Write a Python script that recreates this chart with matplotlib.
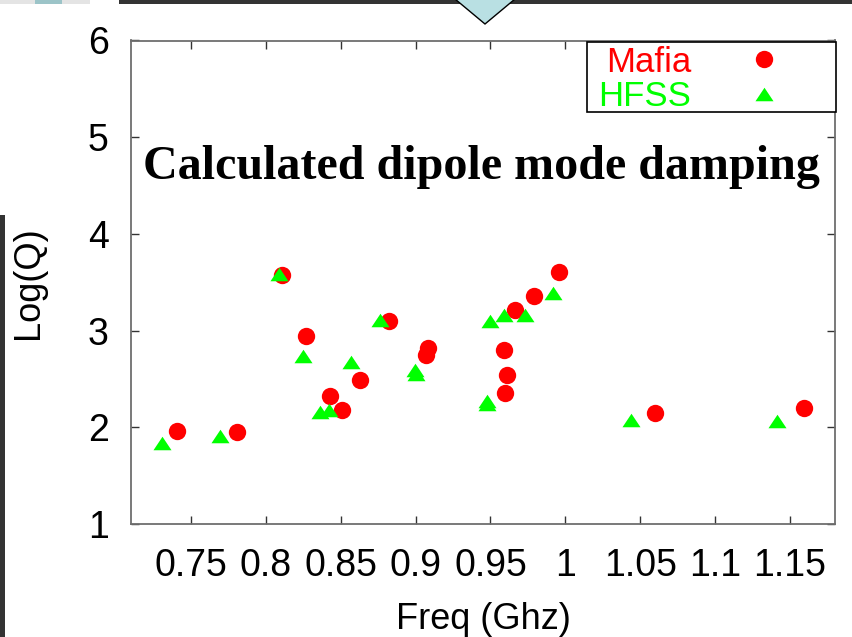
import matplotlib
matplotlib.use("Agg")
import matplotlib.pyplot as plt
from matplotlib.patches import Rectangle, Polygon

# ---- data ----
mafia_freq = [0.741, 0.781, 0.811, 0.827, 0.843, 0.851, 0.863, 0.882, 0.908, 0.907,
              0.959, 0.961, 0.960, 0.9665, 0.979, 0.9955, 1.060, 1.1596]
mafia_logq = [1.96, 1.95, 3.58, 2.94, 2.32, 2.18, 2.49, 3.10, 2.82, 2.75,
              2.80, 2.54, 2.35, 3.21, 3.36, 3.61, 2.15, 2.20]
hfss_freq = [0.731, 0.7695, 0.809, 0.8245, 0.836, 0.842, 0.8566, 0.876, 0.8996, 0.900,
             0.948, 0.948, 0.950, 0.959, 0.973, 0.992, 1.044, 1.141]
hfss_logq = [1.84, 1.91, 3.59, 2.74, 2.16, 2.18, 2.68, 3.11, 2.59, 2.55,
             2.27, 2.24, 3.10, 3.16, 3.16, 3.39, 2.08, 2.07]
x_ticks = [0.75, 0.8, 0.85, 0.9, 0.95, 1.0, 1.05, 1.1, 1.15]
x_tick_labels = ["0.75", "0.8", "0.85", "0.9", "0.95", "1", "1.05", "1.1", "1.15"]
y_ticks = [1, 2, 3, 4, 5, 6]
y_tick_labels = ["1", "2", "3", "4", "5", "6"]
series_names = ["Mafia", "HFSS"]
title_text = "Calculated dipole mode damping"
x_label = "Freq (Ghz)"
y_label = "Log(Q)"

plt.rcParams['font.family'] = ['Liberation Sans', 'DejaVu Sans']

W, H = 852, 637
fig = plt.figure(figsize=(W / 100, H / 100), dpi=100)
fig.patch.set_facecolor('white')

def fx(px):
    return px / W

def fy(py):
    return 1 - py / H

# slide decorations around the chart
fig.patches.append(Rectangle((fx(119), fy(4)), fx(852) - fx(119), fy(0) - fy(4),
                             transform=fig.transFigure, facecolor='#333333',
                             edgecolor='none', zorder=0))
fig.patches.append(Rectangle((fx(0), fy(4)), fx(90), fy(0) - fy(4),
                             transform=fig.transFigure, facecolor='#e4e4e4',
                             edgecolor='none', zorder=0))
fig.patches.append(Rectangle((fx(35), fy(4)), fx(27), fy(0) - fy(4),
                             transform=fig.transFigure, facecolor='#9cc4c8',
                             edgecolor='none', zorder=0))
fig.patches.append(Rectangle((fx(0), fy(637)), fx(5), fy(215) - fy(637),
                             transform=fig.transFigure, facecolor='#333333',
                             edgecolor='none', zorder=0))
fig.patches.append(Polygon([(fx(455), fy(-1)), (fx(485), fy(24)), (fx(515), fy(-1))],
                           closed=True, transform=fig.transFigure,
                           facecolor='#b9e0e3', edgecolor='black', linewidth=1.0, zorder=1))

AX_L, AX_R, AX_T, AX_B = 131, 835, 40.5, 524
ax = fig.add_axes([fx(AX_L), fy(AX_B), fx(AX_R) - fx(AX_L), fy(AX_T) - fy(AX_B)])

def axfx(px):
    return (px - AX_L) / (AX_R - AX_L)

def axfy(py):
    return (AX_B - py) / (AX_B - AX_T)

red = '#ff0000'
green = '#00ff00'
tri = [(-1, -0.75), (1, -0.75), (0, 0.75)]

ax.plot(mafia_freq, mafia_logq, linestyle='none', marker='o', ms=12.5,
        mfc=red, mec='none', label=series_names[0], zorder=3)
ax.plot(hfss_freq, hfss_logq, linestyle='none', marker=tri, ms=13,
        mfc=green, mec='none', label=series_names[1], zorder=4)

ax.set_xlim(0.71, 1.18)
ax.set_ylim(1, 6)
ax.set_xticks(x_ticks)
ax.set_xticklabels(x_tick_labels)
ax.set_yticks(y_ticks)
ax.set_yticklabels(y_tick_labels)

for s in ax.spines.values():
    s.set_color('#6e6e6e')
    s.set_linewidth(1.3)

ax.tick_params(axis='both', direction='in', length=5.5, width=1.0, color='#333333',
               top=True, right=True, labelsize=27, labelcolor='black')
ax.tick_params(axis='x', pad=17)
ax.tick_params(axis='y', pad=16)

ax.set_xlabel(x_label, fontsize=26, labelpad=13)
ax.set_ylabel(y_label, fontsize=26)
ax.yaxis.set_label_coords(axfx(46), 0.5)

ax.text(axfx(143), axfy(167), title_text, transform=ax.transAxes, ha='left', va='center',
        fontsize=34.6, fontweight='bold', family=['Liberation Serif', 'DejaVu Serif'],
        color='black', zorder=5)

# legend box (drawn as a frame) and legend entries
ax.add_patch(Rectangle((axfx(587), axfy(112)), axfx(836) - axfx(587), axfy(42) - axfy(112),
                       transform=ax.transAxes, facecolor='white', edgecolor='black',
                       linewidth=1.2, zorder=6, clip_on=False))
leg = ax.legend(loc='upper right', bbox_to_anchor=(axfx(798.7), axfy(45.5)),
                borderaxespad=0.0, borderpad=0.0, markerfirst=False, fontsize=25,
                frameon=False, handlelength=2.0, handletextpad=1.1,
                labelspacing=0.05, labelcolor=[red, green])
leg.set_zorder(7)

fig.savefig('out.png', dpi=100, facecolor='white')
